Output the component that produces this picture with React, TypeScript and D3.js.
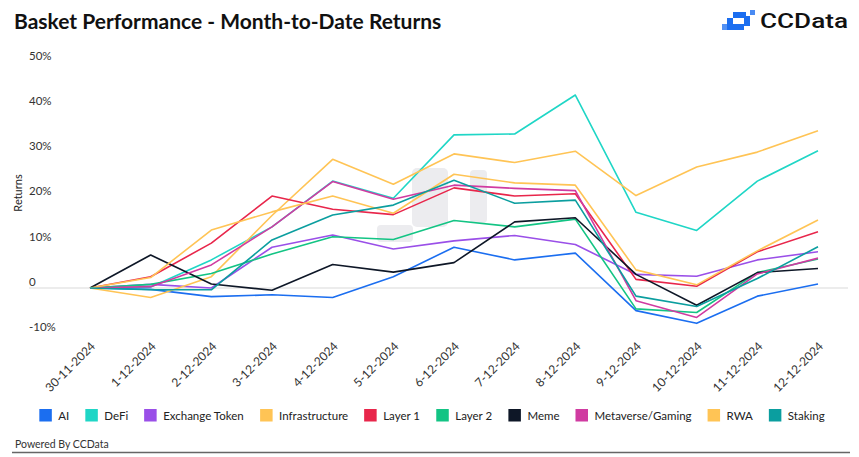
import React, { useMemo } from 'react'
import * as d3 from 'd3'

// x-axis categories
const dates = [
  '30-11-2024', '1-12-2024', '2-12-2024', '3-12-2024', '4-12-2024', '5-12-2024', '6-12-2024',
  '7-12-2024', '8-12-2024', '9-12-2024', '10-12-2024', '11-12-2024', '12-12-2024'
]

// month-to-date returns (%) per basket
const ai = [0, -0.3, -1.9, -1.5, -2.1, 2.5, 9.0, 6.2, 7.7, -5.0, -7.8, -1.8, 0.9]
const defi = [0, 0.2, 6.2, 13.5, 23.6, 19.8, 33.8, 34.0, 42.6, 16.7, 12.7, 23.6, 30.3]
const exchangeToken = [0, 0.8, 0.0, 9.0, 11.7, 8.6, 10.4, 11.6, 9.6, 3.0, 2.6, 6.2, 8.0]
const infrastructure = [0, -2.1, 2.5, 16.0, 28.4, 22.9, 29.6, 27.7, 30.2, 20.4, 26.7, 30.0, 34.7]
const layer1 = [0, 2.5, 9.9, 20.3, 17.4, 16.2, 22.1, 20.3, 20.8, 1.9, 0.4, 8.0, 12.4]
const layer2 = [0, 0.8, 3.2, 7.5, 11.3, 10.7, 14.9, 13.5, 15.2, -4.6, -5.4, 3.4, 6.4]
const meme = [0, 7.3, 0.9, -0.5, 5.2, 3.5, 5.6, 14.6, 15.5, 3.0, -3.8, 3.4, 4.3]
const metaverse = [0, 0.3, 5.1, 13.5, 23.5, 19.6, 22.7, 22.0, 21.5, -2.8, -6.5, 3.1, 6.6]
const rwa = [0, 2.3, 12.8, 16.8, 20.3, 16.5, 25.1, 23.2, 22.7, 4.0, 0.7, 8.2, 15.0]
const staking = [0, -0.4, -0.4, 10.6, 16.1, 18.3, 23.8, 18.7, 19.4, -1.8, -4.1, 2.1, 9.1]

const seriesNames = ['AI', 'DeFi', 'Exchange Token', 'Infrastructure', 'Layer 1', 'Layer 2', 'Meme', 'Metaverse/Gaming', 'RWA', 'Staking']
const seriesValues = [ai, defi, exchangeToken, infrastructure, layer1, layer2, meme, metaverse, rwa, staking]
const seriesColors = ['#1b6ef0', '#1fd6c6', '#9a4fe8', '#ffc455', '#e8264b', '#13c484', '#0e1727', '#d03ba1', '#ffc455', '#0b9e9f']

const yTicks = [-10, 0, 10, 20, 30, 40, 50]

const W = 859
const H = 457
const FONT = 'Lato, "Open Sans", sans-serif'
const LEGEND_FONT = 11.5

export default function App() {
  const x = d3.scalePoint<string>().domain(dates).range([90, 818])
  const y = d3.scaleLinear().domain([-10, 50]).range([333.3, 61.5])

  const line = d3.line<number>()
    .x((_, i) => x(dates[i]) as number)
    .y(d => y(d))

  // legend layout, centred under the chart
  const legend = useMemo(() => {
    const ctx = document.createElement('canvas').getContext('2d')!
    ctx.font = `${LEGEND_FONT}px ${FONT}`
    const box = 12.5
    const gapText = 6.5
    const gapItem = 16
    let cur = 0
    const items = seriesNames.map((name, i) => {
      const w = ctx.measureText(name).width
      const item = { name, color: seriesColors[i], x: cur, w }
      cur += box + gapText + w + gapItem
      return item
    })
    const total = cur - gapItem
    const start = 432 - total / 2
    return items.map(it => ({ ...it, x: it.x + start }))
  }, [])

  return (
    <svg width={W} height={H} style={{ position: 'absolute', left: 0, top: 0, background: '#fff' }} fontFamily={FONT}>
      {/* title */}
      <text x={14} y={29} fontSize={21} fontWeight={700} fill="#111">
        Basket Performance - Month-to-Date Returns
      </text>

      {/* logo */}
      <g fill="#1b6ef0">
        <rect x={722} y={24} width={5} height={6} opacity={0.75} />
        <rect x={727} y={18} width={6} height={12} />
        <rect x={733} y={12} width={13} height={6} />
        <rect x={733} y={24} width={11} height={6} />
        <rect x={744} y={16} width={6} height={10} />
        <rect x={750} y={10} width={5} height={5} opacity={0.8} />
      </g>
      <text x={760} y={28} fontSize={21} fontWeight={500} fill="#111" fontFamily='Roboto, sans-serif'
        textLength={88} lengthAdjust="spacingAndGlyphs">CCData</text>

      {/* watermark */}
      <g fill="#ececef">
        <rect x={412} y={168} width={36} height={59} rx={5} />
        <rect x={470} y={170} width={17} height={53} rx={4} />
        <rect x={377} y={225} width={36} height={17} rx={4} />
      </g>

      {/* zero line */}
      <line x1={29} x2={848} y1={y(0)} y2={y(0)} stroke="#e6e6e6" strokeWidth={1.5} />

      {/* y ticks */}
      {yTicks.map(t => (
        <text key={t} x={29} y={y(t) - 2} fontSize={11.5} fill="#333">
          {t === 0 ? '0' : `${t}%`}
        </text>
      ))}
      <text transform={`translate(22,193) rotate(-90)`} textAnchor="middle" fontSize={11} fill="#222">Returns</text>

      {/* x ticks */}
      {dates.map(d => (
        <text key={d} transform={`translate(${(x(d) as number) + 6},${347}) rotate(-45)`} textAnchor="end" fontSize={12} fill="#333">
          {d}
        </text>
      ))}

      {/* series */}
      <g fill="none" strokeWidth={1.6} strokeLinejoin="round">
        {seriesValues.map((vals, i) => (
          <path key={seriesNames[i]} d={line(vals) || ''} stroke={seriesColors[i]} />
        ))}
      </g>

      {/* legend */}
      {legend.map(it => (
        <g key={it.name} transform={`translate(${it.x},409)`}>
          <rect width={12.5} height={12.5} fill={it.color} />
          <text x={19} y={11} fontSize={LEGEND_FONT} fill="#222">{it.name}</text>
        </g>
      ))}

      {/* footer */}
      <text x={15} y={447.5} fontSize={10.5} fill="#333">Powered By CCData</text>
      <line x1={12} x2={850} y1={452.5} y2={452.5} stroke="#666" strokeWidth={1.5} />
    </svg>
  )
}
